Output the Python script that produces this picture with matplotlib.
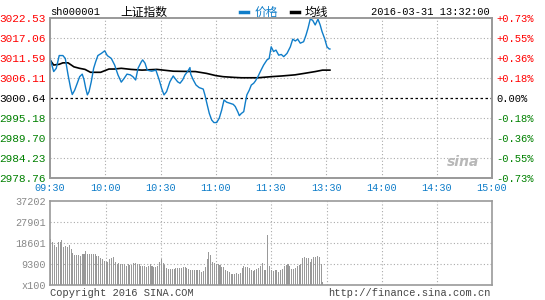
import matplotlib
matplotlib.use("Agg")
import matplotlib.pyplot as plt

plt.rcParams['font.family'] = ['Liberation Mono', 'Noto Sans CJK SC', 'DejaVu Sans']

# price line (minute since 09:30, index value)
price_minutes = [0, 2, 3.4, 5, 7, 8.3, 9.8, 11.2, 12.1, 13.4, 14.8, 16.1, 17.5, 18.5, 19.4, 20.3,
                 21.2, 22.4, 23.7, 24.8, 26, 27.9, 29.7, 31.1, 33.3, 35.1, 36.9, 38.7, 40.2, 41.8,
                 43.6, 45, 46.5, 47.8, 49.6, 50.3, 51.6, 52.8, 55.2, 57.5, 59.3, 60.6, 61.9, 63.3,
                 65.1, 66.9, 67.9, 69.3, 70.6, 72, 73.3, 74.7, 76, 76.4, 77.8, 79.3, 81, 83.2,
                 84.1, 85.4, 86.5, 87.8, 89, 90.5, 91.9, 93.2, 94.5, 95.9, 97.7, 99.5, 100.6,
                 102.1, 102.8, 103.9, 105.2, 106, 106.9, 108.2, 109.3, 110.6, 111.5, 112.9, 114.2,
                 116, 117.8, 119, 120.1, 121.4, 122.7, 124.2, 125.6, 126.9, 128.7, 130.5, 131.8,
                 133.2, 134.5, 135.9, 137.7, 139, 140.1, 141.3, 142.6, 144, 145.5, 146.7, 147.7,
                 149.1, 150.4, 151.6, 152]
price_values = [3011.6, 3007.9, 3008.8, 3012.3, 3012.3, 3011.5, 3007.0, 3003.3, 3001.6, 3002.8,
                3004.7, 3006.5, 3007.2, 3005.6, 3003.3, 3001.5, 3002.4, 3005.1, 3008.8, 3010.6,
                3012.3, 3012.9, 3013.6, 3012.3, 3011.5, 3009.7, 3007.0, 3005.0, 3006.0, 3007.2,
                3007.0, 3006.5, 3005.6, 3008.8, 3010.6, 3011.1, 3010.2, 3008.3, 3008.0, 3008.3,
                3005.6, 3003.3, 3001.5, 3002.4, 3005.1, 3006.7, 3006.0, 3005.1, 3004.7, 3005.6,
                3007.0, 3007.9, 3009.0, 3007.2, 3005.6, 3004.2, 3003.5, 3003.1, 3001.5, 2998.7,
                2996.4, 2994.6, 2993.9, 2993.9, 2995.1, 2997.3, 3000.1, 2999.5, 2999.2, 2998.9,
                2998.3, 2996.7, 2995.8, 2996.4, 2996.9, 2999.2, 3001.5, 3002.8, 3004.2, 3004.7,
                3005.3, 3006.5, 3007.9, 3009.7, 3011.1, 3011.5, 3014.7, 3013.4, 3013.8, 3012.4,
                3012.6, 3012.0, 3012.9, 3014.7, 3016.8, 3016.3, 3016.8, 3015.7, 3016.1, 3017.9,
                3019.8, 3022.3, 3022.0, 3020.7, 3022.3, 3020.7, 3018.9, 3017.0, 3014.7, 3014.1,
                3014.1]

avg_minutes = [0, 2, 5, 7, 9.8, 13, 16, 19, 22, 27.5, 32, 35, 38.7, 44, 50, 58, 67, 79, 85, 90,
               94, 100, 104, 113, 120, 126, 133, 138, 144, 148, 152]
avg_values = [3011.1, 3009.7, 3009.9, 3010.3, 3010.3, 3009.2, 3008.8, 3008.5, 3007.7, 3007.7,
              3008.6, 3008.6, 3008.8, 3008.5, 3008.3, 3008.5, 3008.0, 3007.9, 3007.4, 3006.8,
              3006.5, 3006.3, 3006.2, 3006.2, 3006.5, 3006.7, 3007.0, 3007.4, 3007.9, 3008.3,
              3008.3]

# volume per minute (x100)
volume = [20500, 19000, 17800, 16800, 19000, 19000, 19900, 16800, 17400, 16800, 17900, 15900,
          14200, 13300, 13300, 13300, 12700, 13700, 13700, 15000, 13700, 13700, 13700, 13700,
          13700, 12800, 12800, 12000, 11600, 10800, 10300, 10300, 11500, 12000, 12400, 10300,
          9300, 9700, 9300, 9300, 9300, 8600, 9300, 8800, 8800, 9700, 9700, 9300, 9300, 8500,
          8500, 8500, 8000, 8500, 9300, 8600, 8000, 8000, 8500, 10000, 11500, 9800, 8800, 7600,
          7200, 7200, 7200, 7200, 7400, 7600, 7600, 7600, 7800, 7800, 7600, 7200, 6800, 6500,
          6800, 6800, 6800, 6800, 5800, 6300, 8000, 11500, 14600, 13300, 10300, 9700, 9300,
          9300, 9000, 7970, 7970, 6790, 6050, 5760, 4870, 4870, 4870, 5310, 4870, 5310, 7530,
          8270, 7970, 7970, 7530, 6790, 6050, 6790, 7230, 7530, 8270, 9740, 6790, 6500, 22000,
          8270, 6790, 6050, 6500, 6500, 5760, 6500, 7230, 8270, 9000, 9450, 8270, 7230, 7230,
          7530, 8270, 9000, 9400, 11960, 12250, 11960, 11960, 10040, 11660, 12250, 12550, 12700,
          12250, 9300, 1330]

price_levels = [2978.76, 2984.23, 2989.70, 2995.18, 3000.64, 3006.11, 3011.59, 3017.06, 3022.53]
pct_labels = ['-0.73%', '-0.55%', '-0.36%', '-0.18%', '0.00%', '+0.18%', '+0.36%', '+0.55%', '+0.73%']
time_labels = ['09:30', '10:00', '10:30', '11:00', '11:30', '13:30', '14:00', '14:30', '15:00']
vol_levels = [0, 9300, 18601, 27901, 37202]
vol_labels = ['x100', '9300', '18601', '27901', '37202']

BLUE = '#0f7dc9'
GRID = '#aaaaaa'
EDGE = '#999999'

fig = plt.figure(figsize=(5.45, 3.0), dpi=100)
ax = fig.add_axes([50 / 545, 1 - 177.7 / 300, 442 / 545, 159.4 / 300])
axv = fig.add_axes([50 / 545, 1 - 285 / 300, 442 / 545, 84 / 300])

ticks_x = list(range(0, 241, 30))

# price panel
ax.set_xlim(0, 240)
ax.set_ylim(price_levels[0], price_levels[-1])
for lv in price_levels[1:-1]:
    if lv == 3000.64:
        ax.axhline(lv, color='black', lw=0.9, ls=(0, (2, 2)), zorder=1)
    else:
        ax.axhline(lv, color=GRID, lw=0.8, ls=(0, (1, 2)), zorder=1)
for t in ticks_x[1:-1]:
    ax.axvline(t, color=GRID, lw=0.8, ls=(0, (1, 2)), zorder=1)
ax.plot(avg_minutes, avg_values, color='black', lw=1.2, zorder=3)
ax.plot(price_minutes, price_values, color=BLUE, lw=1.0, zorder=4)

ax.set_yticks(price_levels)
ax.set_yticklabels(['%.2f' % v for v in price_levels], fontsize=8)
for lab, v in zip(ax.get_yticklabels(), price_levels):
    if v > 3000.7:
        lab.set_color('red')
    elif v < 3000.6:
        lab.set_color('green')
    else:
        lab.set_color('black')
ax.set_xticks(ticks_x)
ax.set_xticklabels(time_labels, fontsize=7.3, color=BLUE)
ax.tick_params(length=0, pad=3)
ax.tick_params(axis='x', pad=3.5)

axr = ax.twinx()
axr.set_ylim(price_levels[0], price_levels[-1])
axr.set_yticks(price_levels)
axr.set_yticklabels(pct_labels, fontsize=7.6)
for lab, txt in zip(axr.get_yticklabels(), pct_labels):
    lab.set_color('red' if txt.startswith('+') else ('green' if txt.startswith('-') else 'black'))
axr.tick_params(length=0, pad=3)

for a in (ax, axr, axv):
    for s in a.spines.values():
        s.set_color(EDGE)
        s.set_linewidth(1.2)

# volume panel
axv.set_xlim(-0.5, 240)
axv.set_ylim(0, vol_levels[-1])
for lv in vol_levels[1:-1]:
    axv.axhline(lv, color=GRID, lw=0.8, ls=(0, (1, 2)), zorder=1)
for t in ticks_x[1:-1]:
    axv.axvline(t, color=GRID, lw=0.8, ls=(0, (1, 2)), zorder=1)
axv.bar(range(len(volume)), volume, width=0.55, color=EDGE, zorder=2)
axv.set_xticks([])
axv.set_yticks(vol_levels)
axv.set_yticklabels(vol_labels, fontsize=7.3, color='#888888')
axv.tick_params(length=0, pad=3)

# header and footer text
fig.text(50 / 545, 1 - 12 / 300, 'sh000001', fontsize=7.5, va='center', ha='left')
fig.text(120 / 545, 1 - 12 / 300, '上证指数', fontsize=8.5, va='center', ha='left',
         family=['Noto Sans CJK SC'])
fig.add_artist(plt.Line2D([240 / 545, 248 / 545], [1 - 11.5 / 300] * 2, color=BLUE, lw=2.5))
fig.text(255 / 545, 1 - 12 / 300, '价格', fontsize=8.5, va='center', ha='left',
         color=BLUE, family=['Noto Sans CJK SC'])
fig.add_artist(plt.Line2D([291 / 545, 299 / 545], [1 - 11.5 / 300] * 2, color='black', lw=2.5))
fig.text(305 / 545, 1 - 12 / 300, '均线', fontsize=8.5, va='center', ha='left',
         family=['Noto Sans CJK SC'])
fig.text(490 / 545, 1 - 12 / 300, '2016-03-31 13:32:00', fontsize=7.5, va='center', ha='right')
fig.text(50 / 545, 1 - 293 / 300, 'Copyright 2016 SINA.COM', fontsize=7.5, va='center', ha='left',
         color='#444444')
fig.text(491 / 545, 1 - 293 / 300, 'http://finance.sina.com.cn', fontsize=7.5, va='center',
         ha='right', color='#444444')
fig.text(463 / 545, 1 - 162 / 300, 'sina', fontsize=10, va='center', ha='center',
         color='#b8b8b8', style='italic', weight='bold', family=['DejaVu Sans'])

fig.savefig('out.png', dpi=100)
